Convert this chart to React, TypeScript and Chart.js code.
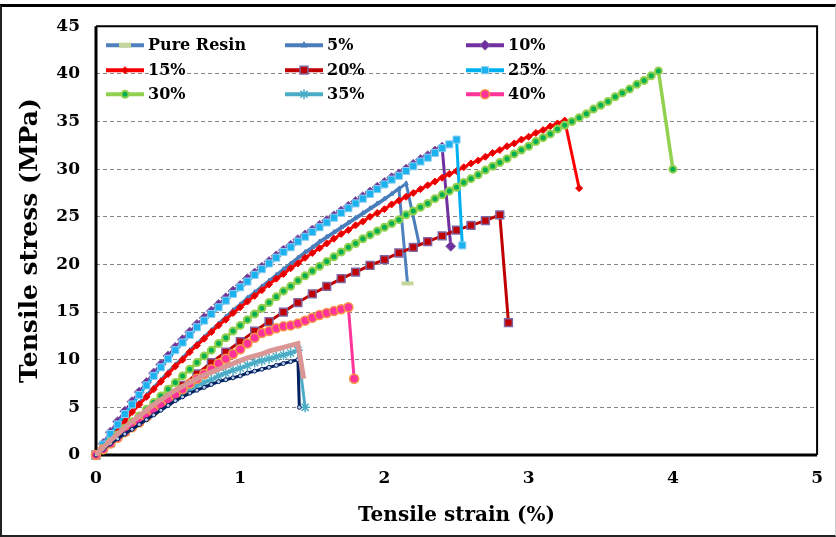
import React, { useEffect, useRef } from 'react';
import { Chart, registerables } from 'chart.js';
import { drawPoint } from 'chart.js/helpers';

Chart.register(...registerables);

// Strain grids (%)
const STRAIN = [0, 0.05, 0.1, 0.15, 0.2, 0.25, 0.3, 0.35, 0.4, 0.45, 0.5, 0.55, 0.6, 0.65, 0.7, 0.75, 0.8, 0.85, 0.9, 0.95, 1, 1.05, 1.1, 1.15, 1.2, 1.25, 1.3, 1.35, 1.4, 1.45, 1.5, 1.55, 1.6, 1.65, 1.7, 1.75, 1.8, 1.85, 1.9, 1.95, 2, 2.05, 2.1, 2.15, 2.2, 2.25, 2.3, 2.35, 2.4, 2.45, 2.5, 2.55, 2.6, 2.65, 2.7, 2.75, 2.8, 2.85, 2.9, 2.95, 3, 3.05, 3.1, 3.15, 3.2, 3.25, 3.3, 3.35, 3.4, 3.45, 3.5, 3.55, 3.6, 3.65, 3.7, 3.75, 3.8, 3.85, 3.9];
const STRAIN_COARSE = [0, 0.1, 0.2, 0.3, 0.4, 0.5, 0.6, 0.7, 0.8, 0.9, 1, 1.1, 1.2, 1.3, 1.4, 1.5, 1.6, 1.7, 1.8, 1.9, 2, 2.1, 2.2, 2.3, 2.4, 2.5, 2.6, 2.7, 2.8];

// Stress (MPa) along the grids, and the failure (break) point [strain, stress]
const pureResin = [0, 0.9, 1.8, 2.7, 3.6, 4.5, 5.4, 6.2, 7.0, 7.8, 8.6, 9.4, 10.1, 10.9, 11.6, 12.3, 13.0, 13.7, 14.4, 15.1, 15.7, 16.4, 17.0, 17.6, 18.2, 18.8, 19.4, 20.0, 20.6, 21.2, 21.7, 22.3, 22.8, 23.3, 23.8, 24.3, 24.8, 25.3, 25.8, 26.3, 26.8, 27.4, 28.0];
const pureResinBreak = [2.16, 18.0];
const five = [0, 1.0, 1.9, 2.8, 3.7, 4.6, 5.5, 6.3, 7.1, 7.9, 8.7, 9.5, 10.2, 11.0, 11.7, 12.4, 13.1, 13.8, 14.5, 15.2, 15.8, 16.5, 17.1, 17.7, 18.3, 18.9, 19.5, 20.1, 20.7, 21.3, 21.8, 22.4, 22.9, 23.4, 23.9, 24.4, 24.9, 25.4, 25.9, 26.4, 26.9, 27.4, 27.9, 28.5];
const fiveBreak = [2.24, 22.2];
const ten = [0, 1.2, 2.4, 3.5, 4.6, 5.6, 6.6, 7.6, 8.6, 9.5, 10.4, 11.3, 12.1, 12.9, 13.7, 14.4, 15.1, 15.8, 16.5, 17.2, 17.8, 18.5, 19.1, 19.7, 20.3, 20.9, 21.5, 22.0, 22.6, 23.1, 23.6, 24.1, 24.6, 25.1, 25.6, 26.1, 26.6, 27.1, 27.6, 28.1, 28.6, 29.1, 29.5, 30.0, 30.5, 31.0, 31.4, 31.9, 32.3];
const tenBreak = [2.46, 21.9];
const fifteen = [0, 0.9, 1.8, 2.7, 3.6, 4.5, 5.3, 6.1, 6.9, 7.7, 8.5, 9.3, 10.0, 10.8, 11.5, 12.2, 12.9, 13.6, 14.2, 14.9, 15.5, 16.1, 16.7, 17.3, 17.9, 18.5, 19.0, 19.6, 20.1, 20.7, 21.2, 21.7, 22.2, 22.7, 23.2, 23.6, 24.1, 24.5, 25.0, 25.4, 25.8, 26.3, 26.7, 27.1, 27.5, 27.9, 28.3, 28.7, 29.1, 29.5, 29.8, 30.2, 30.6, 30.9, 31.3, 31.7, 32.0, 32.4, 32.7, 33.1, 33.4, 33.8, 34.1, 34.5, 34.8, 35.1];
const fifteenBreak = [3.35, 28.0];
const twenty = [0, 1.3, 2.5, 3.7, 4.9, 6.1, 7.3, 8.5, 9.7, 10.8, 11.9, 13.0, 14.0, 15.0, 16.0, 16.9, 17.7, 18.5, 19.2, 19.9, 20.5, 21.2, 21.8, 22.4, 23.0, 23.6, 24.1, 24.6, 25.2];
const twentyBreak = [2.86, 13.9];
const twentyFive = [0, 1.1, 2.2, 3.2, 4.3, 5.3, 6.3, 7.3, 8.3, 9.2, 10.1, 11.0, 11.8, 12.6, 13.4, 14.1, 14.8, 15.5, 16.2, 16.9, 17.6, 18.2, 18.9, 19.5, 20.1, 20.7, 21.3, 21.8, 22.4, 22.9, 23.4, 23.9, 24.4, 24.9, 25.4, 25.9, 26.4, 26.9, 27.4, 27.9, 28.4, 28.9, 29.3, 29.8, 30.3, 30.8, 31.2, 31.7, 32.2, 32.6, 33.1];
const twentyFiveBreak = [2.54, 22.0];
const thirty = [0, 0.7, 1.4, 2.1, 2.8, 3.5, 4.1, 4.8, 5.5, 6.2, 6.9, 7.6, 8.3, 9.0, 9.7, 10.4, 11.0, 11.7, 12.3, 13.0, 13.6, 14.2, 14.8, 15.4, 16.0, 16.6, 17.2, 17.7, 18.3, 18.8, 19.3, 19.8, 20.3, 20.8, 21.3, 21.8, 22.2, 22.7, 23.1, 23.5, 23.9, 24.3, 24.7, 25.2, 25.6, 26.0, 26.4, 26.9, 27.3, 27.7, 28.1, 28.6, 29.0, 29.4, 29.9, 30.3, 30.7, 31.1, 31.6, 32.0, 32.4, 32.9, 33.3, 33.7, 34.2, 34.6, 35.0, 35.4, 35.8, 36.3, 36.7, 37.1, 37.6, 38.0, 38.4, 38.9, 39.3, 39.8, 40.3];
const thirtyBreak = [4.0, 30.0];
const thirtyFive = [0, 0.6, 1.3, 1.9, 2.5, 3.0, 3.6, 4.1, 4.6, 5.1, 5.6, 6.0, 6.5, 6.9, 7.3, 7.6, 7.9, 8.3, 8.6, 8.9, 9.1, 9.4, 9.7, 9.9, 10.1, 10.3, 10.5, 10.7, 11.0];
const thirtyFiveBreak = [1.45, 5.0];
const forty = [0, 0.6, 1.2, 1.8, 2.4, 2.9, 3.4, 4.0, 4.6, 5.2, 5.8, 6.3, 6.9, 7.5, 8.0, 8.5, 9.0, 9.6, 10.1, 10.6, 11.1, 11.7, 12.3, 12.8, 13.0, 13.3, 13.5, 13.6, 13.8, 14.1, 14.4, 14.7, 14.9, 15.1, 15.3, 15.5];
const fortyBreak = [1.79, 8.0];
const extraNavy = [0, 0.6, 1.2, 1.7, 2.2, 2.7, 3.2, 3.7, 4.2, 4.7, 5.2, 5.7, 6.1, 6.5, 6.8, 7.1, 7.4, 7.7, 7.9, 8.1, 8.3, 8.6, 8.8, 9.0, 9.2, 9.4, 9.6, 9.8, 10.0];
const extraNavyBreak = [1.41, 5.0];
const extraRose = [0, 0.8, 1.5, 2.2, 2.9, 3.5, 4.1, 4.7, 5.3, 5.8, 6.3, 6.8, 7.2, 7.6, 8.0, 8.4, 8.7, 9.0, 9.3, 9.6, 9.9, 10.2, 10.4, 10.6, 10.9, 11.1, 11.3, 11.5, 11.7];
const extraRoseBreak = [1.44, 8.0];

const X_TICKS = [0, 1, 2, 3, 4, 5];
const Y_TICKS = [0, 5, 10, 15, 20, 25, 30, 35, 40, 45];

const FONT = "'DejaVu Serif', 'Liberation Serif', serif";

type Marker = { style: string; radius: number; bg: string; border: string; bw: number; lastOnly?: boolean } | null;
type Series = { label: string; xs: number[]; ys: number[]; brk: number[]; color: string; width: number; marker: Marker };

const SERIES: Series[] = [
  { label: 'Pure Resin', xs: STRAIN, ys: pureResin, brk: pureResinBreak, color: '#4F81BD', width: 3, marker: { style: 'line', radius: 6, bg: '#C3D69B', border: '#C3D69B', bw: 4, lastOnly: true } },
  { label: '5%', xs: STRAIN, ys: five, brk: fiveBreak, color: '#4A7EBB', width: 3, marker: { style: 'triangle', radius: 2.5, bg: '#4A7EBB', border: '#4A7EBB', bw: 1 } },
  { label: '10%', xs: STRAIN, ys: ten, brk: tenBreak, color: '#7030A0', width: 3, marker: { style: 'rectRot', radius: 5, bg: '#7030A0', border: '#8064A2', bw: 1 } },
  { label: '15%', xs: STRAIN, ys: fifteen, brk: fifteenBreak, color: '#FF0000', width: 3, marker: { style: 'rectRot', radius: 3.5, bg: '#E00000', border: '#FF0000', bw: 1 } },
  { label: '20%', xs: STRAIN_COARSE, ys: twenty, brk: twentyBreak, color: '#C00000', width: 3, marker: { style: 'rect', radius: 5.5, bg: '#C00000', border: '#8064A2', bw: 1.5 } },
  { label: '25%', xs: STRAIN, ys: twentyFive, brk: twentyFiveBreak, color: '#00B0F0', width: 3, marker: { style: 'rect', radius: 5, bg: '#1CB2F0', border: '#8DCFF0', bw: 1 } },
  { label: '30%', xs: STRAIN, ys: thirty, brk: thirtyBreak, color: '#92D050', width: 3.5, marker: { style: 'circle', radius: 3.5, bg: '#00B050', border: '#92D050', bw: 2 } },
  { label: '35%', xs: STRAIN, ys: thirtyFive, brk: thirtyFiveBreak, color: '#4BACC6', width: 3, marker: { style: 'star', radius: 5, bg: '#4BACC6', border: '#4BACC6', bw: 1.5 } },
  { label: '40%', xs: STRAIN, ys: forty, brk: fortyBreak, color: '#FF3399', width: 3, marker: { style: 'circle', radius: 4.5, bg: '#FF3399', border: '#F79646', bw: 1.5 } },
  { label: '', xs: STRAIN, ys: extraNavy, brk: extraNavyBreak, color: '#002060', width: 3, marker: { style: 'circle', radius: 2, bg: '#B9CDE5', border: '#002060', bw: 1 } },
  { label: '', xs: STRAIN, ys: extraRose, brk: extraRoseBreak, color: '#D99694', width: 5, marker: null },
];

const framePlugin = {
  id: 'frame',
  beforeDatasetsDraw(chart: any) {
    const { ctx, chartArea: a } = chart;
    ctx.save();
    ctx.strokeStyle = '#000';
    ctx.lineWidth = 2;
    ctx.beginPath();
    ctx.moveTo(a.left, a.top);
    ctx.lineTo(a.right, a.top);
    ctx.lineTo(a.right, a.bottom);
    ctx.stroke();
    ctx.lineWidth = 3;
    ctx.beginPath();
    ctx.moveTo(a.left, a.top);
    ctx.lineTo(a.left, a.bottom);
    ctx.lineTo(a.right, a.bottom);
    ctx.stroke();
    ctx.restore();
  },
};

const legendPlugin = {
  id: 'gridLegend',
  afterDatasetsDraw(chart: any) {
    const { ctx, chartArea: a } = chart;
    const colX = [10, 189, 370];
    const rowY = [19, 44, 68];
    let k = 0;
    SERIES.forEach((s) => {
      if (!s.label) return;
      const c = k % 3;
      const r = Math.floor(k / 3);
      k++;
      const x0 = a.left + colX[c];
      const y = a.top + rowY[r];
      ctx.save();
      ctx.strokeStyle = s.color;
      ctx.lineWidth = 4;
      ctx.lineCap = 'butt';
      ctx.beginPath();
      ctx.moveTo(x0, y);
      ctx.lineTo(x0 + 38, y);
      ctx.stroke();
      if (s.marker) {
        const m = s.marker;
        ctx.fillStyle = m.bg;
        ctx.strokeStyle = m.border;
        ctx.lineWidth = m.style === 'line' ? 5 : m.bw;
        drawPoint(ctx, { pointStyle: m.style, radius: m.style === 'line' ? 6 : Math.max(m.radius, 3.5), borderWidth: m.style === 'line' ? 5 : m.bw, rotation: 0 } as any, x0 + 19, y);
      }
      ctx.fillStyle = '#000';
      ctx.font = `bold 16px ${FONT}`;
      ctx.textBaseline = 'middle';
      ctx.textAlign = 'left';
      ctx.fillText(s.label, x0 + 42, y + 1);
      ctx.restore();
    });
  },
};

export default function App() {
  const ref = useRef<HTMLCanvasElement | null>(null);

  useEffect(() => {
    if (!ref.current) return;
    const datasets = SERIES.map((s, i) => {
      const data = s.ys.map((v, j) => ({ x: s.xs[j], y: v }));
      data.push({ x: s.brk[0], y: s.brk[1] });
      const last = data.length - 1;
      const m = s.marker;
      return {
        label: s.label,
        data,
        showLine: true,
        borderColor: s.color,
        borderWidth: s.width,
        backgroundColor: m ? m.bg : s.color,
        pointStyle: m ? m.style : 'circle',
        pointRadius: m ? (m.lastOnly ? (c: any) => (c.dataIndex === last ? m.radius : 0) : m.radius) : 0,
        pointBackgroundColor: m ? m.bg : s.color,
        pointBorderColor: m ? m.border : s.color,
        pointBorderWidth: m ? m.bw : 0,
        tension: 0,
        clip: false as any,
        order: -i,
      };
    });

    const chart = new Chart(ref.current, {
      type: 'scatter',
      data: { datasets: datasets as any },
      options: {
        responsive: false,
        animation: false,
        events: [],
        layout: { padding: { left: 0, top: 22, right: 17, bottom: 0 } },
        plugins: { legend: { display: false }, tooltip: { enabled: false } },
        scales: {
          x: {
            type: 'linear',
            min: 0,
            max: 5,
            afterBuildTicks: (scale: any) => { scale.ticks = X_TICKS.map((v) => ({ value: v })); },
            afterFit: (scale: any) => { scale.height = 82; },
            ticks: { color: '#000', padding: 13, font: { family: FONT, size: 17, weight: 'bold' } },
            grid: { display: false, drawTicks: false },
            border: { display: false },
            title: { display: true, text: 'Tensile strain (%)', color: '#000', font: { family: FONT, size: 20, weight: 'bold' }, padding: { top: 0, bottom: 9 } },
          },
          y: {
            type: 'linear',
            min: 0,
            max: 45,
            afterBuildTicks: (scale: any) => { scale.ticks = Y_TICKS.map((v) => ({ value: v })); },
            afterFit: (scale: any) => { scale.width = 96; },
            ticks: { color: '#000', padding: 16, font: { family: FONT, size: 17, weight: 'bold' } },
            grid: {
              drawTicks: false,
              lineWidth: 1,
              color: (c: any) => (c.tick && (c.tick.value === 0 || c.tick.value === 45) ? 'rgba(0,0,0,0)' : '#858585'),
            },
            border: { display: false, dash: [4, 3] },
            title: { display: true, text: 'Tensile stress (MPa)', color: '#000', font: { family: FONT, size: 25, weight: 'bold' }, padding: { top: 15, bottom: 0 } },
          },
        },
      } as any,
      plugins: [framePlugin, legendPlugin],
    });
    return () => chart.destroy();
  }, []);

  return (
    <div style={{ position: 'absolute', left: 0, top: 0, width: 836, height: 537, background: '#fff' }}>
      <canvas ref={ref} width={836} height={537} style={{ display: 'block', width: 836, height: 537 }} />
      <div
        style={{
          position: 'absolute',
          left: 0,
          top: 4,
          width: 836,
          height: 533,
          boxSizing: 'border-box',
          borderTop: '3px solid #000',
          borderLeft: '2px solid #222',
          borderBottom: '2px solid #222',
          borderRight: '1px solid #ccc',
          pointerEvents: 'none',
        }}
      />
    </div>
  );
}
